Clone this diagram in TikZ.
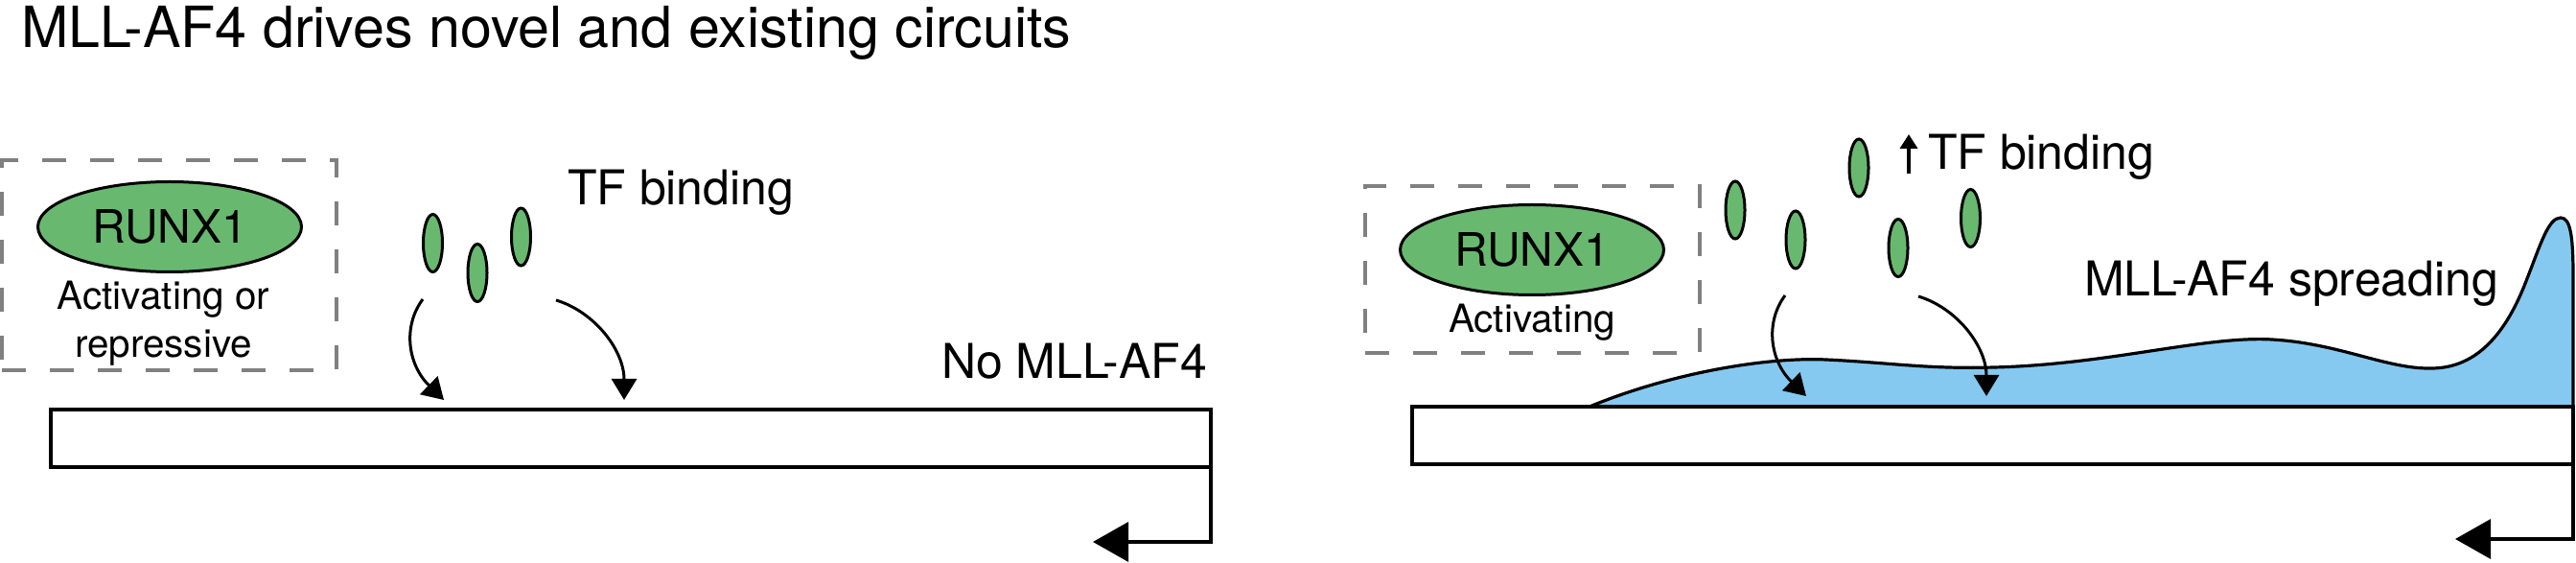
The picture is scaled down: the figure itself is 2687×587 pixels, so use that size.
\documentclass[tikz,border=0pt]{standalone}
\usepackage{fontspec}
\setmainfont{TeX Gyre Heros}
\usetikzlibrary{arrows.meta,shapes.geometric}
\definecolor{tfgreen}{RGB}{104,185,111}
\definecolor{mllblue}{RGB}{134,201,240}
\definecolor{dashgray}{RGB}{128,128,128}
\begin{document}
\begin{tikzpicture}[x=0.25pt,y=-0.25pt,
  every node/.style={inner sep=0pt, outer sep=0pt},
  dashbox/.style={draw=dashgray, line width=1pt, dash pattern=on 6.25pt off 6.25pt, minimum width=87.25pt},
  runx/.style={ellipse, draw=black, fill=tfgreen, line width=0.75pt, minimum width=68.75pt, minimum height=23.5pt, font=\fontsize{12}{14}\selectfont},
  tf/.style={ellipse, draw=black, fill=tfgreen, line width=0.75pt, minimum width=5pt, minimum height=15pt},
  genebox/.style={draw=black, fill=white, line width=0.85pt, minimum height=15pt},
  titlelbl/.style={font=\fontsize{14.8}{17}\selectfont, anchor=base west},
  lbl/.style={font=\fontsize{12.5}{15}\selectfont, anchor=base west},
  smalllbl/.style={font=\fontsize{10.1}{12.5}\selectfont, anchor=base},
  bindarrow/.style={line width=0.75pt, -{Triangle[length=5.5pt,width=6.5pt]}},
  tssarrow/.style={line width=0.85pt, -{Triangle[length=9.25pt,width=10.25pt]}},
  uparrow/.style={line width=0.9pt, -{Triangle[length=3.75pt,width=4.5pt]}},
  spreadfill/.style={fill=mllblue, draw=black, line width=0.8pt}
]
\useasboundingbox (0,0) rectangle (2687,587);

% title
\node[titlelbl] (title) at (22,50) {MLL-AF4 drives novel and existing circuits};

% ---------------- left panel ----------------
\node[dashbox, minimum height=54.75pt] (boxL) at (176.5,276.5) {};
\node[runx] (runxL) at (177,236.5) {RUNX1};
\node[smalllbl] (actL1) at (170.5,323) {Activating or};
\node[smalllbl] (actL2) at (170.5,373) {repressive};

\node[tf] (tfL1) at (451.5,253.5) {};
\node[tf] (tfL2) at (498,284.5) {};
\node[tf] (tfL3) at (543.5,247) {};
\node[lbl] (bindL) at (592,214) {TF binding};
\node[lbl] (noMLL) at (982,395) {No MLL-AF4};

\node[genebox, minimum width=302.5pt] (geneL) at (658,457) {};

\coordinate (aL1s) at (441,312);
\coordinate (aL1e) at (463,417);
\coordinate (aL2s) at (580,313);
\coordinate (aL2e) at (651,417);
\draw[bindarrow] (aL1s) .. controls (420,340) and (425,380) .. (aL1e);
\draw[bindarrow] (aL2s) .. controls (620,325) and (651,365) .. (aL2e);

\coordinate (tssL) at (1140,565);
\draw[tssarrow] (geneL.south east) |- (tssL);

% ---------------- right panel ----------------
\node[dashbox, minimum height=43.5pt] (boxR) at (1598.5,281) {};
\node[runx] (runxR) at (1598,260.5) {RUNX1};
\node[smalllbl] (actR) at (1598,347) {Activating};

\node[tf] (tfR1) at (1810,219) {};
\node[tf] (tfR2) at (1873,250) {};
\node[tf] (tfR3) at (1939,175) {};
\node[tf] (tfR4) at (1980,258.5) {};
\node[tf] (tfR5) at (2055.5,227.5) {};

\coordinate (upS) at (1991,181);
\coordinate (upE) at (1991,140);
\draw[uparrow] (upS) -- (upE);
\node[lbl] (bindR) at (2011,177) {TF binding};
\node[lbl] (spread) at (2174,309) {MLL-AF4 spreading};

\filldraw[spreadfill] (1658,424) .. controls (1740,390) and (1840,372) .. (1905,375)
  .. controls (1970,378) and (2010,385) .. (2080,383)
  .. controls (2200,380) and (2300,350) .. (2370,354)
  .. controls (2440,358) and (2490,385) .. (2536,384)
  .. controls (2585,384) and (2615,345) .. (2635,293)
  .. controls (2650,255) and (2658,227) .. (2671,227)
  .. controls (2682,227) and (2684,250) .. (2684,290)
  -- (2684,424) -- cycle;

\node[genebox, minimum width=302.75pt] (geneR) at (2078.5,454) {};

\coordinate (aR1s) at (1862,308);
\coordinate (aR1e) at (1884,413);
\coordinate (aR2s) at (2001,309);
\coordinate (aR2e) at (2072,413);
\draw[bindarrow] (aR1s) .. controls (1841,336) and (1846,376) .. (aR1e);
\draw[bindarrow] (aR2s) .. controls (2041,321) and (2072,361) .. (aR2e);

\coordinate (tssR) at (2561,562);
\draw[tssarrow] (geneR.south east) |- (tssR);
\end{tikzpicture}
\end{document}
